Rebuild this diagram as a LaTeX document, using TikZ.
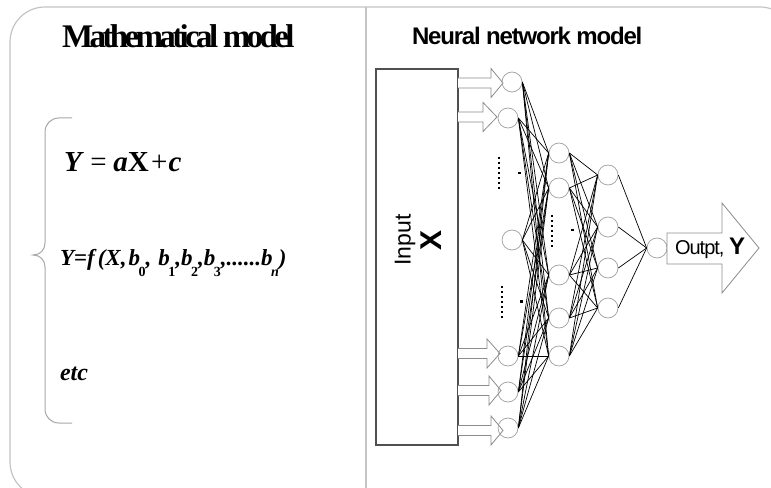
\documentclass[tikz,border=0pt]{standalone}
\usepackage{fontspec}
\setmainfont{Liberation Serif}
\newfontfamily\sansf{Liberation Sans}
\newfontfamily\titlef[LetterSpace=-11]{Liberation Serif}
\newfontfamily\nnf[LetterSpace=-5]{Liberation Sans}
\newfontfamily\outf[LetterSpace=-5]{Liberation Sans}
\definecolor{framegray}{HTML}{C4C4C4}
\definecolor{bracegray}{HTML}{A8A8A8}
\definecolor{neurongray}{HTML}{A0A0A0}
\definecolor{arrowgray}{HTML}{8C8C8C}
\definecolor{boxgray}{HTML}{505050}
\newcommand{\sbx}[1]{\kern-1.5bp\raisebox{-11bp}{\fontsize{14bp}{14bp}\selectfont\upshape #1}}
\newcommand{\sbi}[1]{\kern-1.5bp\raisebox{-11bp}{\fontsize{14bp}{14bp}\selectfont #1}}
\tikzset{
  frameline/.style={draw=framegray, line width=1.2bp},
  braceline/.style={draw=bracegray, line width=1bp},
  neuron/.style={circle, draw=neurongray, line width=0.7bp, minimum size=20bp, inner sep=0pt},
  conn/.style={draw=black, line width=0.7bp},
  blockarrow/.style={draw=arrowgray, line width=0.8bp, fill=white},
  dotcol/.style={draw=black, line width=2.4bp, dash pattern=on 2.4bp off 2.6bp},
  txt/.style={inner sep=0pt, outer sep=0pt}
}
\begin{document}
\begin{tikzpicture}[x=1bp,y=-1bp]
\useasboundingbox (0,0) rectangle (771,488);
\fill[white] (0,0) rectangle (771,488);
% outer frame
\begin{scope}
\clip (0,0) rectangle (771,488);
\draw[frameline, rounded corners=35bp] (10,7) rectangle (795,497);
\draw[frameline, line width=1.6bp] (366,7) -- (366,488);
\end{scope}
% titles
\node[txt, anchor=base west] (mtitle) at (62,48) {\titlef\bfseries\fontsize{33bp}{36bp}\selectfont Mathematical model};
\node[txt, anchor=base west] (ntitle) at (412,45) {\nnf\bfseries\fontsize{24bp}{26bp}\selectfont Neural network model};
% brace
\draw[braceline] (72,118) -- (59,118) .. controls (51,118) and (45,124) .. (45,132) -- (45,243)
  .. controls (45,250) and (40,255) .. (33,255) .. controls (40,255) and (45,260) .. (45,267)
  -- (45,409) .. controls (45,417) and (51,423) .. (59,423) -- (72,423);
% equations
\node[txt, anchor=base west] (eq1) at (64,172) {\fontsize{29bp}{32bp}\selectfont\bfseries\itshape Y\hspace{8.7bp}{\normalfont =}\hspace{6.5bp}a{\upshape X}\hspace{2.5bp}{\normalfont +}\hspace{1bp}c};
\node[txt, anchor=base west] (eq2) at (60,266) {\fontsize{23bp}{26bp}\selectfont\bfseries\itshape Y{\upshape =}f\kern3bp(X,\kern2bp b\sbx{0},\kern7bp b\sbx{1},b\sbx{2},b\sbx{3},......b\sbi{n})};
\node[txt, anchor=base west] (eq3) at (60,380) {\fontsize{24bp}{26bp}\selectfont\bfseries\itshape etc};
% input box
\node[draw=boxgray, line width=1.3bp, minimum width=82bp, minimum height=376bp, inner sep=0pt] (inbox) at (417,257) {};
\node[txt, rotate=90] (inp) at (405,240) {\sansf\fontsize{23bp}{26bp}\selectfont Input};
\node[txt, rotate=90] (inx) at (431,240) {\sansf\bfseries\fontsize{30bp}{32bp}\selectfont X};
% input arrows
\foreach \yc/\hb/\tx in {83/491/503, 117/483/497, 353.5/487/500, 390.5/489/501, 430.5/491/503}{
  \draw[blockarrow] (458,\yc-5) -- (\hb,\yc-5) -- (\hb,\yc-14.5) -- (\tx,\yc) -- (\hb,\yc+14.5) -- (\hb,\yc+5) -- (458,\yc+5);
}
% neurons
\node[neuron] (a1) at (512,82) {};
\node[neuron] (a2) at (508,118) {};
\node[neuron] (a3) at (512,240) {};
\node[neuron] (a4) at (508,356) {};
\node[neuron] (a5) at (508,392) {};
\node[neuron] (a6) at (508,428) {};
\node[neuron] (b1) at (559,153) {};
\node[neuron] (b2) at (559,188) {};
\node[neuron] (b3) at (559,275) {};
\node[neuron] (b4) at (559,318) {};
\node[neuron] (b5) at (559,356) {};
\node[neuron] (c1) at (608,175) {};
\node[neuron] (c2) at (608,227) {};
\node[neuron] (c3) at (608,268) {};
\node[neuron] (c4) at (608,308) {};
\node[neuron] (out) at (657,248) {};
% connections
\foreach \i in {1,...,6}{\foreach \j in {1,...,5}{\draw[conn] (a\i.east) -- (b\j.west);}}
\foreach \j in {1,...,5}{\foreach \k in {1,...,4}{\draw[conn] (b\j.east) -- (c\k.west);}}
\foreach \k in {1,...,4}{\draw[conn] (c\k.east) -- (out.west);}
% dots
\draw[dotcol] (499,157) -- (499,190);
\draw[dotcol] (502,286) -- (502,319);
\draw[dotcol] (552,215) -- (552,247);
\fill (518,172) rectangle (520.5,174.5);
\fill (520,300) rectangle (522.5,302.5);
\fill (571,229) rectangle (573.5,231.5);
% output arrow
\draw[blockarrow] (667,233) -- (722,233) -- (722,203) -- (759,248) -- (722,293) -- (722,264) -- (667,264) -- cycle;
\node[txt, anchor=base west] (outlbl) at (675,255) {\outf\fontsize{20bp}{22bp}\selectfont Outpt, {\sansf\bfseries\fontsize{24bp}{26bp}\selectfont Y}};
\end{tikzpicture}
\end{document}
